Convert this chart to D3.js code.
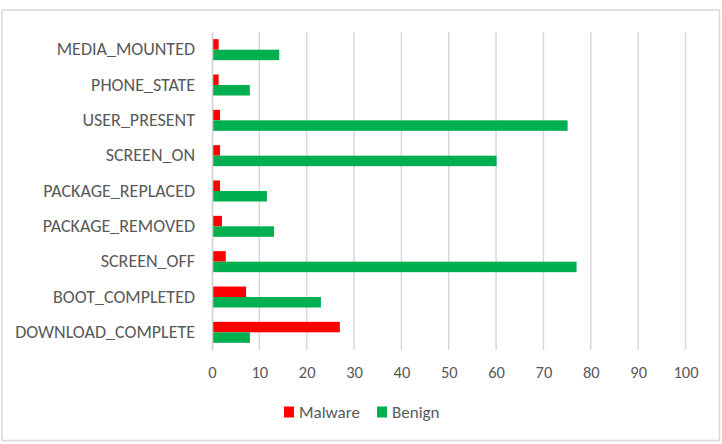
<!DOCTYPE html>
<html>
<head>
<meta charset="utf-8">
<script src="https://cdn.jsdelivr.net/npm/d3@7"></script>
<style>
  html, body { margin: 0; padding: 0; background: #fff; }
  svg { display: block; }
  text { font-family: Carlito, Calibri, Lato, "Open Sans", sans-serif; fill: #595959; }
</style>
</head>
<body>
<svg id="chart" width="722" height="444"></svg>
<script>
const categories = ["MEDIA_MOUNTED", "PHONE_STATE", "USER_PRESENT", "SCREEN_ON", "PACKAGE_REPLACED", "PACKAGE_REMOVED", "SCREEN_OFF", "BOOT_COMPLETED", "DOWNLOAD_COMPLETE"];
const seriesNames = ["Malware", "Benign"];
const malware = [1.4, 1.4, 1.7, 1.7, 1.7, 2.1, 2.9, 7.2, 27.0];
const benign = [14.2, 8.0, 75.1, 60.1, 11.6, 13.1, 77.0, 23.0, 8.0];
const xTicks = [0, 10, 20, 30, 40, 50, 60, 70, 80, 90, 100];
const colors = ["#FF0000", "#00B050"];

const svg = d3.select("#chart");
const plot = { left: 212, right: 685.5, top: 32, bottom: 350 };

// chart border
svg.append("rect").attr("x", 2).attr("y", 10).attr("width", 717.5).attr("height", 430.5)
  .attr("fill", "#fff").attr("stroke", "#D9D9D9").attr("stroke-width", 1.5);

const x = d3.scaleLinear().domain([0, 100]).range([plot.left, plot.right]);
const y = d3.scaleBand().domain(categories).range([plot.top, plot.bottom])
  .paddingInner(0.406).paddingOuter(0.203);
const ySub = d3.scaleBand().domain(seriesNames).range([0, y.bandwidth()]);

// gridlines
svg.append("g").selectAll("line").data(xTicks.filter(d => d > 0)).join("line")
  .attr("x1", d => x(d)).attr("x2", d => x(d))
  .attr("y1", plot.top).attr("y2", plot.bottom)
  .attr("stroke", "#D9D9D9").attr("stroke-width", 1.5);

// bars
const rows = categories.map((c, i) => ({ c, vals: [malware[i], benign[i]] }));
const g = svg.append("g");
rows.forEach(r => {
  r.vals.forEach((v, j) => {
    g.append("rect")
      .attr("x", x(0))
      .attr("y", y(r.c) + ySub(seriesNames[j]))
      .attr("width", x(v) - x(0))
      .attr("height", ySub.bandwidth())
      .attr("fill", colors[j]);
  });
});

// x axis
const xAxis = svg.append("g").attr("transform", `translate(0,${plot.bottom})`)
  .call(d3.axisBottom(x).tickValues(xTicks).tickSize(0).tickPadding(16).tickFormat(d3.format("d")));
xAxis.select(".domain").remove();
xAxis.selectAll("text").style("font-size", "16.5px").attr("fill", "#595959");

// y axis
const yAxis = svg.append("g").attr("transform", `translate(${plot.left},0)`)
  .call(d3.axisLeft(y).tickSize(0).tickSizeOuter(0).tickPadding(17));
yAxis.select(".domain").attr("stroke", "#D0D0D0").attr("stroke-width", 1.6);
yAxis.selectAll("text").style("font-size", "18px").attr("fill", "#595959");

// legend
const legendItems = [
  { name: seriesNames[0], color: colors[0], x: 284 },
  { name: seriesNames[1], color: colors[1], x: 377 }
];
const lg = svg.append("g");
legendItems.forEach(it => {
  lg.append("rect").attr("x", it.x).attr("y", 406.5).attr("width", 10).attr("height", 11).attr("fill", it.color);
  lg.append("text").attr("x", it.x + 15).attr("y", 412).attr("dy", "0.35em")
    .style("font-size", "17px").text(it.name);
});
</script>
</body>
</html>
